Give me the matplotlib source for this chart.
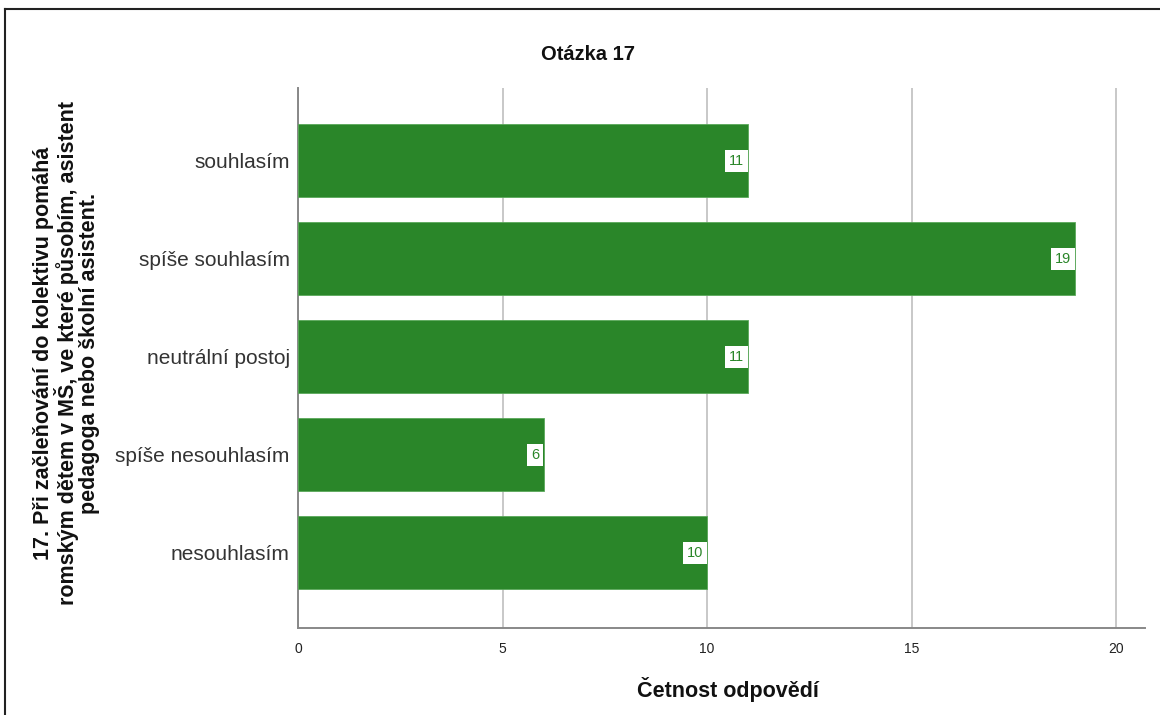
import matplotlib
matplotlib.use("Agg")
import matplotlib.pyplot as plt
from matplotlib.lines import Line2D

plt.rcParams['font.family'] = ['Liberation Sans', 'DejaVu Sans']

categories = ["souhlasím", "spíše souhlasím", "neutrální postoj",
              "spíše nesouhlasím", "nesouhlasím"]
counts = [11, 19, 11, 6, 10]
x_ticks = [0, 5, 10, 15, 20]

title = "Otázka 17"
x_title = "Četnost odpovědí"
y_title = ("17. Při začleňování do kolektivu pomáhá\n"
           "romským dětem v MŠ, ve které působím, asistent\n"
           "pedagoga nebo školní asistent.")

bar_color = "#2a8629"

fig = plt.figure(figsize=(11.6, 7.15), dpi=100)
W, H = 1160, 715
ax = fig.add_axes([298 / W, 1 - 628 / H, (1145 - 298) / W, (628 - 88) / H])

ypos = list(range(len(categories)))
bars = ax.barh(ypos, counts, height=0.745, color=bar_color,
               edgecolor="#5aa85a", linewidth=0.6, zorder=3)

for y, v in zip(ypos, counts):
    ax.annotate(str(v), xy=(v, y), xytext=(-3.0, 0), textcoords="offset points",
                ha="right", va="center", fontsize=10.5, color=bar_color,
                bbox=dict(boxstyle="square,pad=0.28", fc="white", ec="none"),
                zorder=5)

ax.set_ylim(len(categories) - 1 + 0.77, -0.745)
ax.set_xlim(0, 20.7)
ax.set_yticks(ypos)
ax.set_yticklabels(categories, fontsize=15, color="#333333")
ax.set_xticks(x_ticks)
ax.set_xticklabels([str(t) for t in x_ticks], fontsize=10, color="#222222")
ax.tick_params(axis="both", length=0)
ax.tick_params(axis="y", pad=6)
ax.tick_params(axis="x", pad=10)

ax.grid(axis="x", color="#c8c8c8", linewidth=1.4, zorder=0)
for s in ["top", "right"]:
    ax.spines[s].set_visible(False)
for s in ["left", "bottom"]:
    ax.spines[s].set_color("#888888")
    ax.spines[s].set_linewidth(1.4)

fig.text(588 / W, 1 - 55 / H, title, ha="center", va="center",
         fontsize=14.5, fontweight="bold", color="#111111")
fig.text(728 / W, 1 - 690 / H, x_title, ha="center", va="center",
         fontsize=15.5, fontweight="bold", color="#111111")
fig.text(67 / W, 1 - 353 / H, y_title, ha="center", va="center",
         rotation=90, fontsize=15.5, fontweight="bold", color="#111111",
         linespacing=1.0)

# frame around the figure (top and left edges visible)
fig.add_artist(Line2D([5 / W, 1.0], [1 - 9 / H, 1 - 9 / H],
                      transform=fig.transFigure, color="#222222", lw=1.5))
fig.add_artist(Line2D([5 / W, 5 / W], [0, 1 - 9 / H],
                      transform=fig.transFigure, color="#222222", lw=1.5))

fig.savefig("out.png", dpi=100)
